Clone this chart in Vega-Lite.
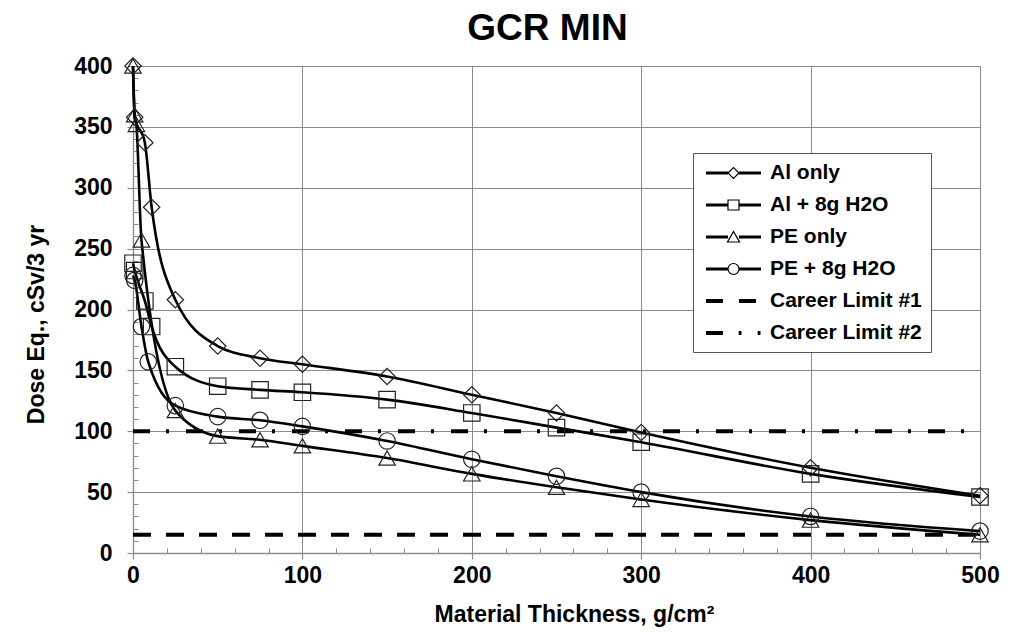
{
  "$schema": "https://vega.github.io/schema/vega-lite/v6.json",
  "width": 847,
  "height": 487,
  "autosize": {"type": "none"},
  "padding": {"left": 133, "top": 66, "right": 34, "bottom": 79},
  "background": "white",
  "config": {
    "view": {"stroke": null},
    "font": "Liberation Sans"
  },
  "title": {
    "text": "GCR MIN",
    "font": "Liberation Sans",
    "fontSize": 37,
    "fontWeight": "bold",
    "color": "#000000",
    "anchor": "middle",
    "frame": "group",
    "baseline": "alphabetic",
    "dx": -9,
    "dy": 34,
    "offset": 12
  },
  "datasets": {
    "curves": [
      {"series": "Al only", "x": 0, "dose": 400},
      {"series": "Al only", "x": 1, "dose": 358},
      {"series": "Al only", "x": 7, "dose": 337},
      {"series": "Al only", "x": 11, "dose": 284},
      {"series": "Al only", "x": 25, "dose": 208},
      {"series": "Al only", "x": 50, "dose": 170},
      {"series": "Al only", "x": 75, "dose": 160},
      {"series": "Al only", "x": 100, "dose": 155},
      {"series": "Al only", "x": 150, "dose": 145},
      {"series": "Al only", "x": 200, "dose": 130},
      {"series": "Al only", "x": 250, "dose": 115},
      {"series": "Al only", "x": 300, "dose": 99},
      {"series": "Al only", "x": 400, "dose": 70},
      {"series": "Al only", "x": 500, "dose": 47},
      {"series": "Al + 8g H2O", "x": 0, "dose": 238},
      {"series": "Al + 8g H2O", "x": 1, "dose": 232},
      {"series": "Al + 8g H2O", "x": 7, "dose": 207},
      {"series": "Al + 8g H2O", "x": 11, "dose": 186},
      {"series": "Al + 8g H2O", "x": 25, "dose": 153},
      {"series": "Al + 8g H2O", "x": 50, "dose": 137},
      {"series": "Al + 8g H2O", "x": 75, "dose": 134},
      {"series": "Al + 8g H2O", "x": 100, "dose": 132},
      {"series": "Al + 8g H2O", "x": 150, "dose": 126},
      {"series": "Al + 8g H2O", "x": 200, "dose": 115},
      {"series": "Al + 8g H2O", "x": 250, "dose": 103},
      {"series": "Al + 8g H2O", "x": 300, "dose": 91},
      {"series": "Al + 8g H2O", "x": 400, "dose": 65},
      {"series": "Al + 8g H2O", "x": 500, "dose": 46},
      {"series": "PE only", "x": 0, "dose": 400},
      {"series": "PE only", "x": 1, "dose": 360},
      {"series": "PE only", "x": 2, "dose": 352},
      {"series": "PE only", "x": 5, "dose": 257},
      {"series": "PE only", "x": 25, "dose": 117},
      {"series": "PE only", "x": 50, "dose": 96},
      {"series": "PE only", "x": 75, "dose": 93},
      {"series": "PE only", "x": 100, "dose": 88},
      {"series": "PE only", "x": 150, "dose": 78},
      {"series": "PE only", "x": 200, "dose": 65},
      {"series": "PE only", "x": 250, "dose": 54},
      {"series": "PE only", "x": 300, "dose": 44},
      {"series": "PE only", "x": 400, "dose": 27},
      {"series": "PE only", "x": 500, "dose": 15},
      {"series": "PE + 8g H2O", "x": 0, "dose": 228},
      {"series": "PE + 8g H2O", "x": 1, "dose": 224},
      {"series": "PE + 8g H2O", "x": 5, "dose": 186},
      {"series": "PE + 8g H2O", "x": 9, "dose": 157},
      {"series": "PE + 8g H2O", "x": 25, "dose": 121},
      {"series": "PE + 8g H2O", "x": 50, "dose": 112},
      {"series": "PE + 8g H2O", "x": 75, "dose": 109},
      {"series": "PE + 8g H2O", "x": 100, "dose": 104},
      {"series": "PE + 8g H2O", "x": 150, "dose": 92},
      {"series": "PE + 8g H2O", "x": 200, "dose": 77},
      {"series": "PE + 8g H2O", "x": 250, "dose": 63},
      {"series": "PE + 8g H2O", "x": 300, "dose": 50},
      {"series": "PE + 8g H2O", "x": 400, "dose": 30},
      {"series": "PE + 8g H2O", "x": 500, "dose": 18}
    ],
    "limits": [
      {"limit": "Career Limit #1", "dose": 15},
      {"limit": "Career Limit #2", "dose": 100}
    ]
  },
  "resolve": {
    "axis": {"x": "independent", "y": "independent"},
    "scale": {"shape": "independent"}
  },
  "layer": [
    {
      "data": {"name": "limits"},
      "transform": [{"filter": "datum.limit == 'Career Limit #1'"}],
      "mark": {"type": "rule", "color": "#000000", "strokeWidth": 3.8, "strokeDash": [18, 15], "strokeDashOffset": 29},
      "encoding": {
        "y": {
          "field": "dose", "type": "quantitative",
          "scale": {"domain": [0, 400], "nice": false, "zero": false},
          "axis": {
            "orient": "left",
            "values": [10, 20, 30, 40, 60, 70, 80, 90, 110, 120, 130, 140, 160, 170, 180, 190, 210, 220, 230, 240, 260, 270, 280, 290, 310, 320, 330, 340, 360, 370, 380, 390],
            "grid": false, "domain": false, "labels": false, "title": null,
            "tickColor": "#8a8a8a", "tickSize": -5, "tickWidth": 1
          }
        }
      }
    },
    {
      "data": {"name": "limits"},
      "transform": [{"filter": "datum.limit == 'Career Limit #2'"}],
      "mark": {"type": "rule", "color": "#000000", "strokeWidth": 3.8, "strokeDash": [17, 17, 3, 16], "strokeDashOffset": 18},
      "encoding": {
        "y": {
          "field": "dose", "type": "quantitative",
          "scale": {"domain": [0, 400], "nice": false, "zero": false},
          "axis": null
        }
      }
    },
    {
      "data": {"name": "curves"},
      "mark": {"type": "line", "interpolate": "monotone", "color": "#000000", "strokeWidth": 2.6},
      "encoding": {
        "x": {
          "field": "x", "type": "quantitative",
          "scale": {"domain": [0, 500], "nice": false, "zero": false},
          "axis": {
            "orient": "bottom",
            "values": [0, 100, 200, 300, 400, 500],
            "grid": true, "gridColor": "#8a8a8a", "gridWidth": 1,
            "domainColor": "#8a8a8a", "domainWidth": 1.3,
            "tickColor": "#8a8a8a", "tickSize": 6, "tickWidth": 1.2,
            "labelFont": "Liberation Sans", "labelFontWeight": "bold", "labelFontSize": 23,
            "labelColor": "#000000", "labelPadding": 5, "labelFlush": false,
            "title": "Material Thickness, g/cm²",
            "titleFont": "Liberation Sans", "titleFontWeight": "bold", "titleFontSize": 23,
            "titleColor": "#000000", "titleBaseline": "alphabetic",
            "titleX": 441, "titleY": 68
          }
        },
        "y": {
          "field": "dose", "type": "quantitative",
          "scale": {"domain": [0, 400], "nice": false, "zero": false},
          "axis": {
            "orient": "left",
            "values": [0, 50, 100, 150, 200, 250, 300, 350, 400],
            "grid": true, "gridColor": "#8a8a8a", "gridWidth": 1,
            "domainColor": "#8a8a8a", "domainWidth": 1.3,
            "tickColor": "#8a8a8a", "tickSize": 6, "tickWidth": 1.2,
            "labelFont": "Liberation Sans", "labelFontWeight": "bold", "labelFontSize": 23,
            "labelColor": "#000000", "labelPadding": 15,
            "title": "Dose Eq., cSv/3 yr",
            "titleFont": "Liberation Sans", "titleFontWeight": "bold", "titleFontSize": 23,
            "titleColor": "#000000", "titleAngle": -90, "titleBaseline": "alphabetic",
            "titleAlign": "center",
            "titleX": -90, "titleY": 258
          }
        },
        "detail": {"field": "series"}
      }
    },
    {
      "data": {"name": "curves"},
      "mark": {"type": "point", "filled": false, "color": "#222222", "strokeWidth": 1.2, "size": 270, "opacity": 1},
      "encoding": {
        "x": {
          "field": "x", "type": "quantitative",
          "scale": {"domain": [0, 500], "nice": false, "zero": false},
          "axis": {
            "orient": "bottom",
            "values": [20, 40, 60, 80, 120, 140, 160, 180, 220, 240, 260, 280, 320, 340, 360, 380, 420, 440, 460, 480],
            "grid": false, "domain": false, "labels": false, "title": null,
            "tickColor": "#8a8a8a", "tickSize": -5, "tickWidth": 1
          }
        },
        "y": {
          "field": "dose", "type": "quantitative",
          "scale": {"domain": [0, 400], "nice": false, "zero": false},
          "axis": null
        },
        "shape": {
          "field": "series",
          "scale": {
            "domain": ["Al only", "Al + 8g H2O", "PE only", "PE + 8g H2O"],
            "range": ["diamond", "square", "triangle-up", "circle"]
          },
          "legend": null
        }
      }
    },
    {
      "data": {"name": "limits"},
      "mark": {"type": "point", "filled": false, "color": "#000000", "strokeWidth": 1.2, "size": 400, "opacity": 0},
      "encoding": {
        "shape": {
          "field": "limit",
          "scale": {
            "domain": ["Al only", "Al + 8g H2O", "PE only", "PE + 8g H2O", "Career Limit #1", "Career Limit #2"],
            "range": [
              "M-0.7,-0.096H1.5M-0.7,0H1.5M-0.7,0.096H1.5M2.6,-0.096H4.8M2.6,0H4.8M2.6,0.096H4.8M1.5,0L2.05,-0.55L2.6,0L2.05,0.55Z",
              "M-0.7,-0.096H1.5M-0.7,0H1.5M-0.7,0.096H1.5M2.6,-0.096H4.8M2.6,0H4.8M2.6,0.096H4.8M1.5,-0.5H2.6V0.5H1.5Z",
              "M-0.7,-0.096H1.5M-0.7,0H1.5M-0.7,0.096H1.5M2.6,-0.096H4.8M2.6,0H4.8M2.6,0.096H4.8M2.05,-0.55L2.65,0.5H1.45Z",
              "M-0.7,-0.096H1.5M-0.7,0H1.5M-0.7,0.096H1.5M2.6,-0.096H4.8M2.6,0H4.8M2.6,0.096H4.8M2.6,0A0.55,0.55,0,1,1,1.5,0A0.55,0.55,0,1,1,2.6,0Z",
              "M-0.7,-0.1375H1M-0.7,-0.046H1M-0.7,0.046H1M-0.7,0.1375H1M2.6,-0.1375H4.3M2.6,-0.046H4.3M2.6,0.046H4.3M2.6,0.1375H4.3",
              "M-0.7,-0.1375H1M-0.7,-0.046H1M-0.7,0.046H1M-0.7,0.1375H1M2.57,-0.1375H2.85M2.57,-0.046H2.85M2.57,0.046H2.85M2.57,0.1375H2.85M4.47,-0.1375H4.75M4.47,-0.046H4.75M4.47,0.046H4.75M4.47,0.1375H4.75"
            ]
          },
          "legend": {
            "orient": "none",
            "legendX": 560,
            "legendY": 87,
            "title": null,
            "padding": 9,
            "strokeColor": "#555555",
            "fillColor": "#ffffff",
            "labelFont": "Liberation Sans",
            "labelFontWeight": "bold",
            "labelFontSize": 21,
            "labelColor": "#000000",
            "labelOffset": 46,
            "rowPadding": 11,
            "symbolSize": 400,
            "symbolOpacity": 1,
            "symbolStrokeColor": "#000000",
            "symbolFillColor": "#ffffff",
            "symbolStrokeWidth": 1.2
          }
        }
      }
    }
  ]
}
